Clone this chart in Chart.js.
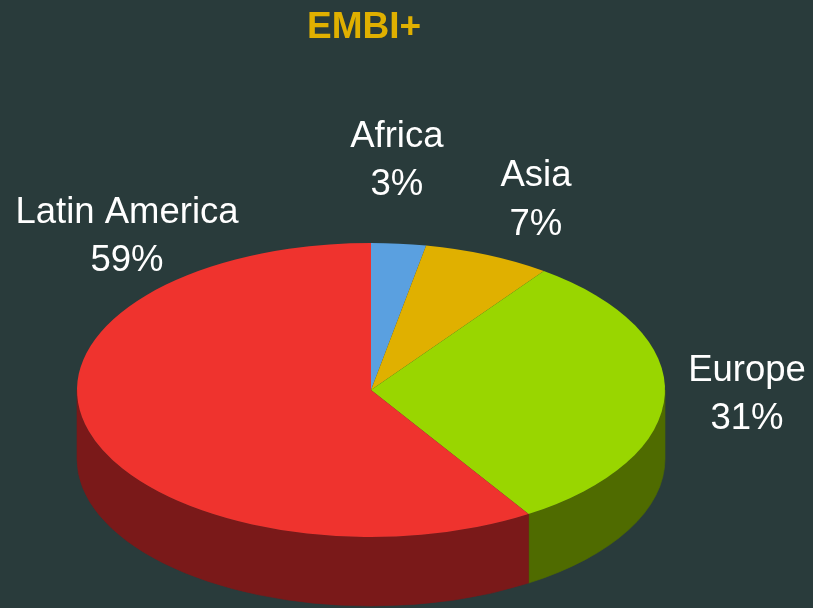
<!DOCTYPE html>
<html>
<head>
<meta charset="utf-8">
<script src="https://cdn.jsdelivr.net/npm/chart.js@4/dist/chart.umd.min.js"></script>
<style>
  html, body { margin: 0; padding: 0; background: #293B3B; }
  #wrap { width: 813px; height: 608px; position: relative; }
</style>
</head>
<body>
<div id="wrap"><canvas id="c"></canvas></div>
<script>
// ---- data ----
const categories = ['Africa', 'Asia', 'Europe', 'Latin America'];
const shares = [3, 7, 31, 59];
const chartTitle = 'EMBI+';

// ---- styles ----
const topColors  = ['#5AA0E0', '#E0B000', '#99D600', '#EF332E'];
const sideColors = ['#2D5070', '#705800', '#4F6B00', '#7A1919'];
// label anchor offsets, in units of the ellipse radii, relative to pie centre
const labelOffsets = [[0.088, -1.49], [0.561, -1.224], [1.279, 0.102], [-0.830, -0.973]];

const pie3d = {
  id: 'pie3d',
  beforeDatasetsDraw(chart, args, opts) {
    const arcs = chart.getDatasetMeta(0).data;
    if (!arcs.length) return;
    const cx = arcs[0].x, cy = arcs[0].y, r = arcs[0].outerRadius;
    const ctx = chart.ctx;
    const sx = opts.rx / r, sy = opts.ry / r;
    // extruded side walls, from each arc's own angles (front half only)
    arcs.forEach((a, i) => {
      const TAU = Math.PI * 2;
      for (let k = -1; k <= 1; k++) {
        const s = Math.max(a.startAngle + k * TAU, 0);
        const e = Math.min(a.endAngle + k * TAU, Math.PI);
        if (e <= s) continue;
        ctx.save();
        ctx.beginPath();
        ctx.ellipse(opts.cx, opts.cy, opts.rx, opts.ry, 0, s, e, false);
        ctx.ellipse(opts.cx, opts.cy + opts.depth, opts.rx, opts.ry, 0, e, s, true);
        ctx.closePath();
        ctx.fillStyle = opts.sideColors[i];
        ctx.strokeStyle = opts.sideColors[i];
        ctx.lineWidth = 0.6;
        ctx.fill();
        ctx.stroke();
        ctx.restore();
      }
    });
    ctx.save();
    ctx.translate(opts.cx, opts.cy);
    ctx.scale(sx, sy);
    ctx.translate(-cx, -cy);
  },
  afterDatasetsDraw(chart) {
    chart.ctx.restore();
  },
  afterDraw(chart, args, opts) {
    const ctx = chart.ctx;
    const data = chart.data.datasets[0].data;
    const total = data.reduce((s, v) => s + v, 0);
    ctx.save();
    ctx.font = '36.5px "Liberation Sans", Arial, sans-serif';
    ctx.fillStyle = '#FFFFFF';
    ctx.textAlign = 'center';
    ctx.textBaseline = 'alphabetic';
    chart.data.labels.forEach((lab, i) => {
      const off = opts.labelOffsets[i];
      const ax = opts.cx + off[0] * opts.rx;
      const ay = opts.cy + off[1] * opts.ry;
      ctx.fillText(lab, ax, ay - 24);
      ctx.fillText(Math.round(data[i] / total * 100) + '%', ax, ay + 24.5);
    });
    ctx.restore();
  }
};

new Chart(document.getElementById('c'), {
  type: 'pie',
  data: {
    labels: categories,
    datasets: [{
      data: shares,
      backgroundColor: topColors,
      borderWidth: 0
    }]
  },
  options: {
    responsive: true,
    maintainAspectRatio: false,
    animation: false,
    layout: { padding: { right: 85 } },
    plugins: {
      legend: { display: false },
      tooltip: { enabled: false },
      title: {
        display: true,
        text: chartTitle,
        color: '#E0B000',
        font: { family: '"Liberation Sans", Arial, sans-serif', size: 37, weight: 'bold' },
        padding: { top: 6, bottom: 10 }
      },
      pie3d: {
        cx: 371, cy: 390, rx: 294, ry: 147, depth: 69,
        sideColors: sideColors,
        labelOffsets: labelOffsets
      }
    }
  },
  plugins: [pie3d]
});
</script>
</body>
</html>
